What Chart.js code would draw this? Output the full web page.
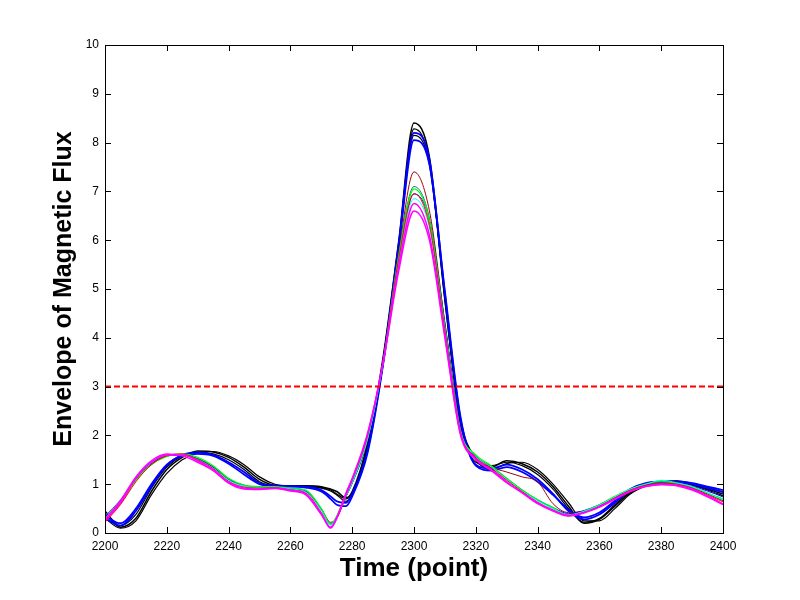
<!DOCTYPE html>
<html>
<head>
<meta charset="utf-8">
<script src="https://cdn.jsdelivr.net/npm/chart.js@4/dist/chart.umd.min.js"></script>
<style>
  html, body { margin: 0; padding: 0; background: #fff; }
  canvas { display: block; }
</style>
</head>
<body>
<canvas id="chart" width="800" height="600"></canvas>
<script>
// sample positions (time, point)
const xValues = [2200, 2205, 2210, 2215, 2220, 2225, 2230, 2235, 2240, 2245,
  2250, 2255, 2260, 2265, 2270, 2273, 2275, 2278, 2280, 2285,
  2290, 2295, 2300, 2305, 2310, 2315, 2320, 2325, 2330, 2335,
  2340, 2345, 2350, 2355, 2360, 2365, 2370, 2375, 2380, 2385,
  2390, 2395, 2400];

const xTicks = [2200, 2220, 2240, 2260, 2280, 2300, 2320, 2340, 2360, 2380, 2400];
const yTicks = [0, 1, 2, 3, 4, 5, 6, 7, 8, 9, 10];
const threshold = 3;

// late group (tall peak)
const black1 = [0.40, 0.12, 0.30, 0.85, 1.30, 1.55, 1.68, 1.66, 1.55, 1.35, 1.10, 0.98, 0.97, 0.97, 0.95, 0.90, 0.85, 0.72, 0.85, 1.85, 3.60, 5.95, 8.40, 7.70, 4.80, 2.30, 1.50, 1.35, 1.48, 1.42, 1.25, 0.95, 0.55, 0.20, 0.28, 0.55, 0.82, 0.98, 1.05, 1.06, 1.00, 0.90, 0.80];
const black2 = [0.45, 0.15, 0.38, 0.92, 1.35, 1.58, 1.66, 1.62, 1.50, 1.30, 1.05, 0.96, 0.95, 0.96, 0.93, 0.88, 0.80, 0.70, 0.82, 1.80, 3.55, 5.90, 8.28, 7.60, 4.75, 2.25, 1.45, 1.38, 1.45, 1.38, 1.20, 0.90, 0.50, 0.22, 0.30, 0.58, 0.85, 1.00, 1.05, 1.05, 0.98, 0.88, 0.76];
const black3 = [0.30, 0.10, 0.25, 0.78, 1.22, 1.50, 1.64, 1.67, 1.58, 1.40, 1.15, 1.00, 0.96, 0.95, 0.92, 0.86, 0.78, 0.65, 0.80, 1.75, 3.50, 5.85, 8.15, 7.55, 4.85, 2.35, 1.52, 1.30, 1.42, 1.45, 1.30, 1.00, 0.62, 0.25, 0.25, 0.50, 0.80, 0.96, 1.04, 1.07, 1.02, 0.93, 0.84];
const blue1 = [0.30, 0.15, 0.45, 0.95, 1.38, 1.60, 1.65, 1.60, 1.45, 1.25, 1.02, 0.97, 0.96, 0.95, 0.88, 0.75, 0.65, 0.62, 0.80, 1.70, 3.50, 5.90, 8.20, 7.65, 4.90, 2.35, 1.40, 1.32, 1.40, 1.30, 1.10, 0.80, 0.45, 0.28, 0.38, 0.62, 0.88, 1.00, 1.05, 1.05, 1.02, 0.95, 0.88];
const blue2 = [0.35, 0.20, 0.50, 1.00, 1.40, 1.58, 1.62, 1.58, 1.42, 1.20, 1.00, 0.95, 0.95, 0.93, 0.85, 0.70, 0.58, 0.55, 0.75, 1.65, 3.45, 5.80, 8.05, 7.55, 4.95, 2.40, 1.38, 1.28, 1.35, 1.25, 1.05, 0.78, 0.48, 0.32, 0.42, 0.66, 0.90, 1.02, 1.05, 1.04, 1.00, 0.92, 0.84];

// early group (lower peak)
const darkRed = [0.25, 0.60, 1.10, 1.42, 1.58, 1.60, 1.52, 1.35, 1.10, 0.98, 0.93, 0.93, 0.90, 0.85, 0.50, 0.22, 0.30, 0.75, 1.05, 2.00, 3.50, 5.70, 7.40, 6.60, 4.30, 2.15, 1.55, 1.35, 1.25, 1.15, 1.05, 0.60, 0.42, 0.45, 0.55, 0.72, 0.88, 0.98, 1.02, 1.00, 0.92, 0.80, 0.66];
const green = [0.30, 0.62, 1.08, 1.40, 1.57, 1.62, 1.55, 1.38, 1.12, 0.98, 0.95, 0.95, 0.92, 0.88, 0.50, 0.18, 0.35, 0.78, 1.05, 1.95, 3.50, 5.65, 7.05, 6.40, 4.20, 2.10, 1.60, 1.38, 1.12, 0.88, 0.68, 0.52, 0.35, 0.45, 0.58, 0.75, 0.90, 1.00, 1.06, 1.02, 0.95, 0.82, 0.70];
const teal = [0.35, 0.68, 1.12, 1.45, 1.58, 1.60, 1.52, 1.36, 1.10, 0.97, 0.94, 0.94, 0.91, 0.86, 0.48, 0.20, 0.32, 0.76, 1.02, 1.92, 3.48, 5.68, 7.10, 6.45, 4.25, 2.12, 1.58, 1.36, 1.10, 0.87, 0.67, 0.50, 0.38, 0.44, 0.57, 0.74, 0.89, 0.99, 1.04, 1.02, 0.94, 0.82, 0.68];
const red = [0.22, 0.58, 1.05, 1.40, 1.58, 1.62, 1.50, 1.32, 1.06, 0.94, 0.92, 0.93, 0.88, 0.82, 0.42, 0.12, 0.30, 0.78, 1.08, 2.00, 3.52, 5.60, 6.95, 6.30, 4.15, 2.08, 1.55, 1.33, 1.08, 0.85, 0.63, 0.47, 0.36, 0.42, 0.55, 0.72, 0.88, 0.98, 1.02, 1.00, 0.92, 0.78, 0.64];
const cyan = [0.30, 0.66, 1.12, 1.44, 1.60, 1.61, 1.50, 1.33, 1.08, 0.96, 0.93, 0.94, 0.90, 0.84, 0.46, 0.16, 0.33, 0.76, 1.04, 1.95, 3.48, 5.55, 6.85, 6.25, 4.15, 2.10, 1.57, 1.35, 1.10, 0.86, 0.66, 0.50, 0.37, 0.44, 0.57, 0.74, 0.90, 1.00, 1.08, 1.03, 0.95, 0.82, 0.68];
const blueEarly = [0.32, 0.64, 1.10, 1.42, 1.58, 1.60, 1.52, 1.35, 1.10, 0.97, 0.93, 0.93, 0.90, 0.85, 0.48, 0.18, 0.32, 0.75, 1.02, 1.90, 3.45, 5.55, 6.95, 6.40, 4.30, 2.15, 1.58, 1.36, 1.12, 0.88, 0.68, 0.52, 0.40, 0.46, 0.58, 0.74, 0.89, 0.98, 1.03, 1.02, 0.96, 0.86, 0.74];
const magenta1 = [0.25, 0.62, 1.12, 1.45, 1.60, 1.60, 1.48, 1.30, 1.04, 0.92, 0.90, 0.92, 0.88, 0.80, 0.40, 0.10, 0.30, 0.80, 1.10, 2.02, 3.50, 5.45, 6.75, 6.10, 4.05, 2.05, 1.52, 1.30, 1.05, 0.83, 0.62, 0.46, 0.36, 0.42, 0.54, 0.70, 0.86, 0.96, 1.00, 0.98, 0.90, 0.76, 0.60];
const magenta2 = [0.28, 0.66, 1.15, 1.48, 1.62, 1.58, 1.45, 1.28, 1.02, 0.90, 0.89, 0.91, 0.86, 0.78, 0.38, 0.12, 0.32, 0.82, 1.12, 2.05, 3.48, 5.35, 6.60, 6.00, 4.00, 2.02, 1.50, 1.28, 1.03, 0.82, 0.60, 0.45, 0.35, 0.41, 0.53, 0.69, 0.85, 0.95, 0.99, 0.97, 0.88, 0.74, 0.58];

const pts = ys => xValues.map((x, i) => ({ x, y: ys[i] }));
const curve = (ys, color, w = 1.5) => ({
  data: pts(ys), borderColor: color, borderWidth: w,
  pointRadius: 0, fill: false, cubicInterpolationMode: 'monotone'
});

const FONT = '"Liberation Sans", Arial, Helvetica, sans-serif';

// MATLAB-style box with inward ticks
const boxTicks = {
  id: 'boxTicks',
  afterDraw(chart) {
    const { ctx, chartArea: a, scales: { x, y } } = chart;
    const len = 6;
    ctx.save();
    ctx.strokeStyle = '#000';
    ctx.lineWidth = 1;
    ctx.beginPath();
    xTicks.forEach(v => {
      const px = Math.round(x.getPixelForValue(v)) + 0.5;
      ctx.moveTo(px, a.bottom); ctx.lineTo(px, a.bottom - len);
      ctx.moveTo(px, a.top); ctx.lineTo(px, a.top + len);
    });
    yTicks.forEach(v => {
      const py = Math.round(y.getPixelForValue(v)) + 0.5;
      ctx.moveTo(a.left, py); ctx.lineTo(a.left + len, py);
      ctx.moveTo(a.right, py); ctx.lineTo(a.right - len, py);
    });
    ctx.stroke();
    ctx.strokeRect(Math.round(a.left) + 0.5, Math.round(a.top) + 0.5,
      Math.round(a.right - a.left), Math.round(a.bottom - a.top));
    ctx.restore();
  }
};

new Chart(document.getElementById('chart').getContext('2d'), {
  type: 'line',
  data: {
    datasets: [
      {
        data: [{ x: xTicks[0], y: threshold }, { x: xTicks[xTicks.length - 1], y: threshold }],
        borderColor: '#ff0000', borderWidth: 2, borderDash: [6, 3],
        pointRadius: 0, fill: false
      },
      curve(magenta2, '#ff00ff'),
      curve(magenta1, '#ff00ff'),
      curve(red, '#ff0000', 1),
      curve(cyan, '#00ffff', 1),
      curve(green, '#00ff00', 1.2),
      curve(teal, '#008080', 1),
      curve(blueEarly, '#0000ff', 1),
      curve(darkRed, '#a00000', 1),
      curve(blue2, '#0000ff', 1.8),
      curve(blue1, '#0000ff', 1.8),
      curve(black3, '#000000', 1.2),
      curve(black2, '#000000', 1.2),
      curve(black1, '#000000', 1.5)
    ]
  },
  options: {
    responsive: false,
    devicePixelRatio: 1,
    animation: false,
    layout: { padding: { left: 0, right: 77, top: 45, bottom: 0 } },
    plugins: { legend: { display: false }, tooltip: { enabled: false } },
    scales: {
      x: {
        type: 'linear', min: 2200, max: 2400,
        afterBuildTicks: s => { s.ticks = xTicks.map(v => ({ value: v })); },
        afterFit: s => { s.height = 67; },
        grid: { display: true, drawOnChartArea: false, drawTicks: false },
        border: { display: false },
        ticks: {
          color: '#000', font: { family: FONT, size: 12 }, padding: 6,
          maxRotation: 0, autoSkip: false, callback: v => String(v)
        },
        title: {
          display: true, text: 'Time (point)', color: '#000',
          font: { family: FONT, size: 26, weight: 'bold' },
          padding: { top: 0, bottom: 16 }
        }
      },
      y: {
        type: 'linear', min: 0, max: 10,
        afterBuildTicks: s => { s.ticks = yTicks.map(v => ({ value: v })); },
        afterFit: s => { s.width = 105; },
        grid: { display: true, drawOnChartArea: false, drawTicks: false },
        border: { display: false },
        ticks: { color: '#000', font: { family: FONT, size: 12 }, padding: 6, callback: v => String(v) },
        title: {
          display: true, text: 'Envelope of Magnetic Flux', color: '#000',
          font: { family: FONT, size: 25, weight: 'bold' },
          padding: { top: 49, bottom: 0 }
        }
      }
    }
  },
  plugins: [boxTicks]
});
</script>
</body>
</html>
